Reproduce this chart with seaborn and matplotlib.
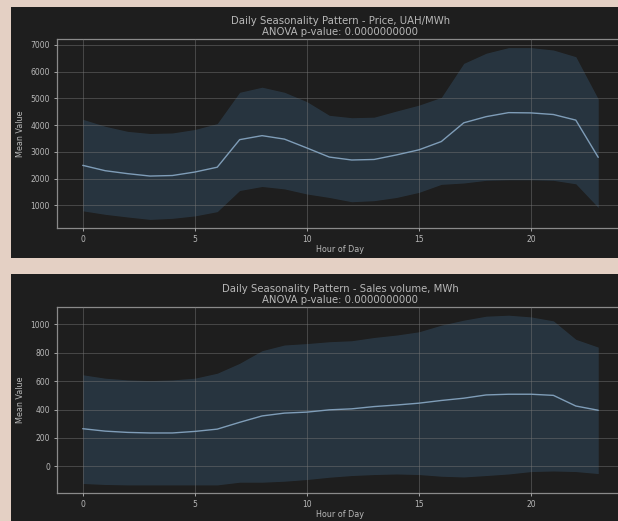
import numpy as np
import pandas as pd
import matplotlib.pyplot as plt
import seaborn as sns
from matplotlib.patches import Rectangle

# Hourly means with +/- 1 std band
hours = list(range(24))

price_mean = [2500, 2300, 2190, 2100, 2120, 2250, 2430, 3460, 3610, 3480, 3150, 2810,
              2700, 2720, 2890, 3080, 3390, 4090, 4320, 4470, 4460, 4400, 4190, 2800]
price_upper = [4220, 3960, 3770, 3690, 3710, 3840, 4060, 5230, 5420, 5230, 4880, 4370,
               4280, 4300, 4530, 4750, 5040, 6310, 6690, 6900, 6900, 6810, 6560, 4980]
price_lower = [800, 670, 570, 480, 520, 610, 770, 1560, 1710, 1620, 1430, 1300,
               1140, 1180, 1300, 1490, 1790, 1840, 1940, 1960, 1960, 1940, 1810, 925]

volume_mean = [265, 248, 239, 235, 235, 246, 262, 310, 355, 375, 382, 398,
               405, 421, 432, 445, 464, 480, 503, 508, 508, 500, 425, 395]
volume_upper = [645, 621, 609, 604, 609, 621, 656, 726, 815, 855, 865, 878,
                885, 908, 925, 948, 995, 1030, 1058, 1065, 1053, 1025, 895, 840]
volume_lower = [-121, -128, -131, -131, -131, -131, -131, -112, -112, -105, -93, -77,
                -65, -58, -54, -58, -70, -75, -65, -54, -37, -33, -37, -51]

titles = ['Daily Seasonality Pattern - Price, UAH/MWh\nANOVA p-value: 0.0000000000',
          'Daily Seasonality Pattern - Sales volume, MWh\nANOVA p-value: 0.0000000000']

panel_bg = '#1e1e1e'
text_col = '#b8b8b8'
line_col = '#7f9db8'
band_col = '#5091c8'

sns.set_style('dark', {
    'axes.facecolor': panel_bg,
    'axes.edgecolor': '#8a8a8a',
    'grid.color': '#4a4a4a',
    'text.color': text_col,
    'axes.labelcolor': text_col,
    'xtick.color': text_col,
    'ytick.color': text_col,
    'xtick.bottom': True,
    'ytick.left': True,
})
plt.rcParams['font.family'] = ['DejaVu Sans']

fig = plt.figure(figsize=(6.18, 5.21), dpi=100, facecolor='#e4d0c4')

# dark panels behind each subplot
fig.patches.append(Rectangle((0.018, 0.505), 1.0, 0.482, transform=fig.transFigure,
                             facecolor=panel_bg, edgecolor='none', zorder=-5))
fig.patches.append(Rectangle((0.018, 0.0), 1.0, 0.474, transform=fig.transFigure,
                             facecolor=panel_bg, edgecolor='none', zorder=-5))

ax1 = fig.add_axes([0.0922, 0.5624, 0.9175, 0.3627])
ax2 = fig.add_axes([0.0922, 0.0530, 0.9175, 0.3583])

series = [(ax1, price_mean, price_lower, price_upper),
          (ax2, volume_mean, volume_lower, volume_upper)]

for (ax, mean, lower, upper), title in zip(series, titles):
    df = pd.DataFrame({'hour': hours, 'mean': mean, 'lower': lower, 'upper': upper})
    ax.fill_between(df['hour'], df['lower'], df['upper'], color=band_col, alpha=0.2,
                    linewidth=0, zorder=1)
    sns.lineplot(data=df, x='hour', y='mean', ax=ax, color=line_col, linewidth=1.0, zorder=3)
    ax.grid(True, color='#7a7a7a', alpha=0.45, linewidth=0.7, zorder=2)
    ax.set_axisbelow(False)
    ax.set_title(title, fontsize=7.3, color=text_col, pad=3, linespacing=1.05)
    ax.set_xlabel('Hour of Day', fontsize=5.8, labelpad=0.5)
    ax.set_ylabel('Mean Value', fontsize=5.8, labelpad=4)
    ax.tick_params(labelsize=5.5, length=2.5, width=0.6, pad=2.5, colors=text_col)
    ax.set_xticks([0, 5, 10, 15, 20])
    for s in ax.spines.values():
        s.set_linewidth(0.9)
        s.set_color('#8a8a8a')

fig.savefig('out.png', dpi=100, facecolor=fig.get_facecolor())
